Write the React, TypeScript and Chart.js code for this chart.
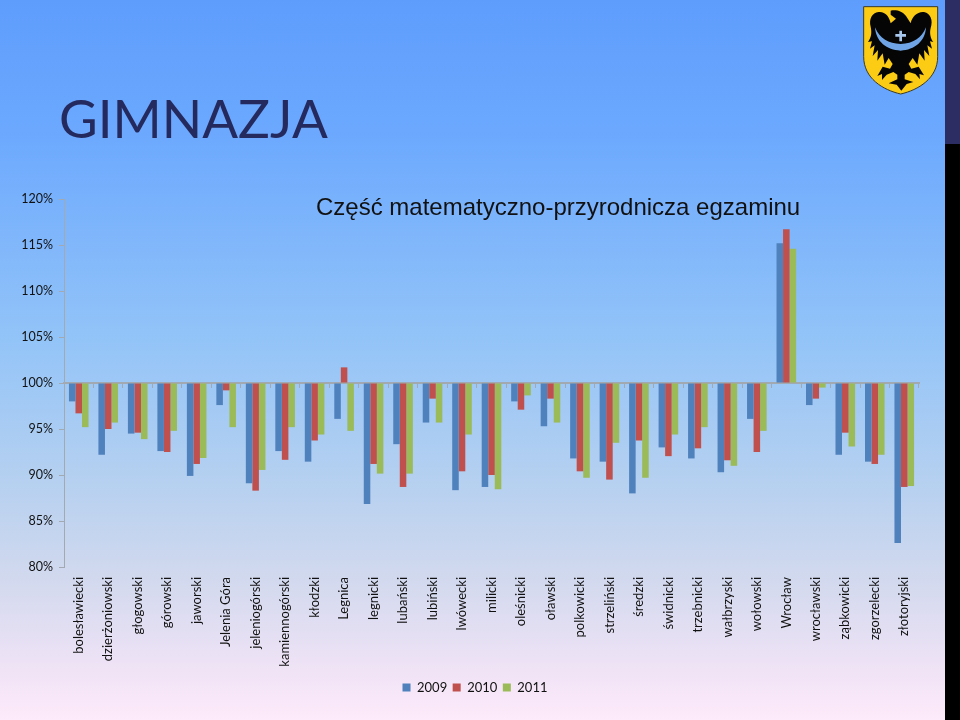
import React, { useEffect, useRef } from "react";
import { Chart, registerables } from "chart.js";

Chart.register(...registerables);

const categories = [
  "bolesławiecki", "dzierżoniowski", "głogowski", "górowski", "jaworski", "Jelenia Góra",
  "jeleniogórski", "kamiennogórski", "kłodzki", "Legnica", "legnicki", "lubański", "lubiński",
  "lwówecki", "milicki", "oleśnicki", "oławski", "polkowicki", "strzeliński", "średzki",
  "świdnicki", "trzebnicki", "wałbrzyski", "wołowski", "Wrocław", "wrocławski", "ząbkowicki",
  "zgorzelecki", "złotoryjski",
];
const values2009 = [
  98.0, 92.2, 94.5, 92.6, 89.9, 97.6, 89.1, 92.6, 91.45, 96.1, 86.85, 93.35, 95.7, 88.35, 88.7,
  98.0, 95.3, 91.8, 91.45, 88.0, 93.0, 91.8, 90.3, 96.1, 115.2, 97.6, 92.2, 91.45, 82.6,
];
const values2010 = [
  96.7, 95.0, 94.6, 92.5, 91.2, 99.2, 88.3, 91.65, 93.75, 101.7, 91.2, 88.7, 98.3, 90.4, 90.0,
  97.1, 98.3, 90.4, 89.5, 93.75, 92.05, 92.9, 91.6, 92.5, 116.7, 98.3, 94.6, 91.2, 88.7,
];
const values2011 = [
  95.2, 95.7, 93.9, 94.8, 91.85, 95.2, 90.55, 95.2, 94.4, 94.8, 90.15, 90.15, 95.7, 94.4, 88.45,
  98.65, 95.7, 89.7, 93.5, 89.7, 94.4, 95.2, 91.0, 94.8, 114.6, 99.5, 93.1, 92.2, 88.8,
];
const seriesNames = ["2009", "2010", "2011"];
const slideTitle = "GIMNAZJA";
const chartTitle = "Część matematyczno-przyrodnicza egzaminu";

const FONT = "Lato, 'Open Sans', sans-serif";
const AXIS = "#a3a9b0";

export default function App() {
  const ref = useRef<HTMLCanvasElement | null>(null);

  useEffect(() => {
    document.body.style.margin = "0";
    const chart = new Chart(ref.current as HTMLCanvasElement, {
      type: "bar",
      data: {
        labels: categories,
        datasets: [
          { label: seriesNames[0], data: values2009, backgroundColor: "#4F81BD", base: 100 },
          { label: seriesNames[1], data: values2010, backgroundColor: "#C0504D", base: 100 },
          { label: seriesNames[2], data: values2011, backgroundColor: "#9BBB59", base: 100 },
        ],
      },
      options: {
        responsive: false,
        animation: false,
        layout: { padding: { top: 199, right: 10, bottom: 16, left: 0 } },
        datasets: { bar: { categoryPercentage: 0.665, barPercentage: 1 } },
        plugins: {
          title: { display: false },
          tooltip: { enabled: false },
          legend: {
            position: "bottom",
            align: "center",
            labels: {
              boxWidth: 8,
              boxHeight: 8,
              padding: 5.5,
              color: "#111",
              font: { family: FONT, size: 13 },
            },
          },
        },
        scales: {
          x: {
            position: "bottom",
            border: { display: false },
            grid: { display: false, drawTicks: false },
            afterFit: (s: any) => {
              s.height = 108.5;
            },
            ticks: {
              autoSkip: false,
              minRotation: 90,
              maxRotation: 90,
              padding: 10,
              color: "#111",
              font: { family: FONT, size: 13 },
            },
          },
          x2: {
            type: "category",
            axis: "x",
            labels: categories,
            position: { y: 100 },
            offset: true,
            border: { display: true, color: AXIS, width: 2 },
            grid: { drawOnChartArea: false, drawTicks: true, tickLength: 4, color: AXIS, offset: true },
            ticks: { display: false },
          },
          y: {
            min: 80,
            max: 120,
            afterFit: (s: any) => {
              s.width = 64;
            },
            border: { display: true, color: AXIS, width: 1 },
            grid: { drawOnChartArea: false, drawTicks: true, tickLength: 5, color: AXIS },
            ticks: {
              stepSize: 5,
              padding: 6,
              color: "#111",
              font: { family: FONT, size: 12.5 },
              callback: (v: any) => v + "%",
            },
          },
          yRightSpacer: {
            type: "linear",
            axis: "y",
            position: "right",
            min: 80,
            max: 120,
            afterFit: (s: any) => {
              s.width = 31;
            },
            border: { display: false },
            grid: { display: false, drawTicks: false },
            ticks: { display: false },
          },
        },
      } as any,
    });
    return () => chart.destroy();
  }, []);

  return (
    <div
      style={{
        position: "relative",
        width: 960,
        height: 720,
        overflow: "hidden",
        background:
          "linear-gradient(180deg, #5f9dfd 0px, #6ba8fe 130px, #93c4f8 340px, #b5d0f0 480px, #d2d9ee 580px, #f0e3f6 670px, #fdeafa 720px)",
      }}
    >
      <canvas ref={ref} width={960} height={720} style={{ position: "absolute", left: 0, top: 0 }} />
      <div
        style={{
          position: "absolute",
          left: 59,
          top: 81,
          fontFamily: FONT,
          fontSize: 53,
          lineHeight: "74px",
          color: "#252a5e",
        }}
      >
        {slideTitle}
      </div>
      <div
        style={{
          position: "absolute",
          left: 316,
          top: 191,
          fontFamily: "'Liberation Sans', Arial, sans-serif",
          fontSize: 24,
          lineHeight: "32px",
          color: "#111",
          whiteSpace: "nowrap",
        }}
      >
        {chartTitle}
      </div>
      <div style={{ position: "absolute", left: 945, top: 0, width: 15, height: 144, background: "#2b2d63" }} />
      <div style={{ position: "absolute", left: 945, top: 144, width: 15, height: 576, background: "#000" }} />
      <svg
        viewBox="0 0 360 480"
        width={120}
        height={160}
        style={{ position: "absolute", left: 840, top: 0 }}
      >
        <path
          d="M71 20 H293 V170 C293 235 235 270 182 282 C129 270 71 235 71 170 Z"
          fill="#fccb14"
          stroke="#3a3a2a"
          strokeWidth="3"
        />
        <path
          fill="#050505"
          d="M152 32 C168 28 188 34 198 48 L212 70 C216 50 232 34 252 36 C272 40 280 62 272 84 C268 100 272 116 280 126 L270 124 L276 146 L262 136 L268 168 L252 150 L254 182 L238 160 L232 194 L218 174 L206 192 L214 206 L236 200 L252 226 L238 222 L240 238 L226 222 L206 216 L194 224 L194 238 L220 246 L200 252 L184 272 L170 254 L146 250 L172 238 L172 224 L160 216 L140 224 L126 240 L126 222 L112 228 L128 200 L150 206 L158 192 L146 174 L134 194 L128 160 L112 182 L114 150 L98 168 L104 136 L90 146 L96 124 L84 126 C94 112 96 98 92 80 C86 58 96 38 116 36 C136 34 148 50 152 70 L168 56 L152 44 Z"
        />
        <path
          d="M105 82 C120 118 145 130 182 132 C220 130 244 116 258 82 C256 124 224 150 182 152 C140 150 108 126 105 82 Z"
          fill="#6fa5e6"
        />
        <path d="M178 92 h8 v10 h12 v8 h-12 v14 h-8 v-14 h-12 v-8 h12 Z" fill="#a8c8ee" />
      </svg>
    </div>
  );
}
